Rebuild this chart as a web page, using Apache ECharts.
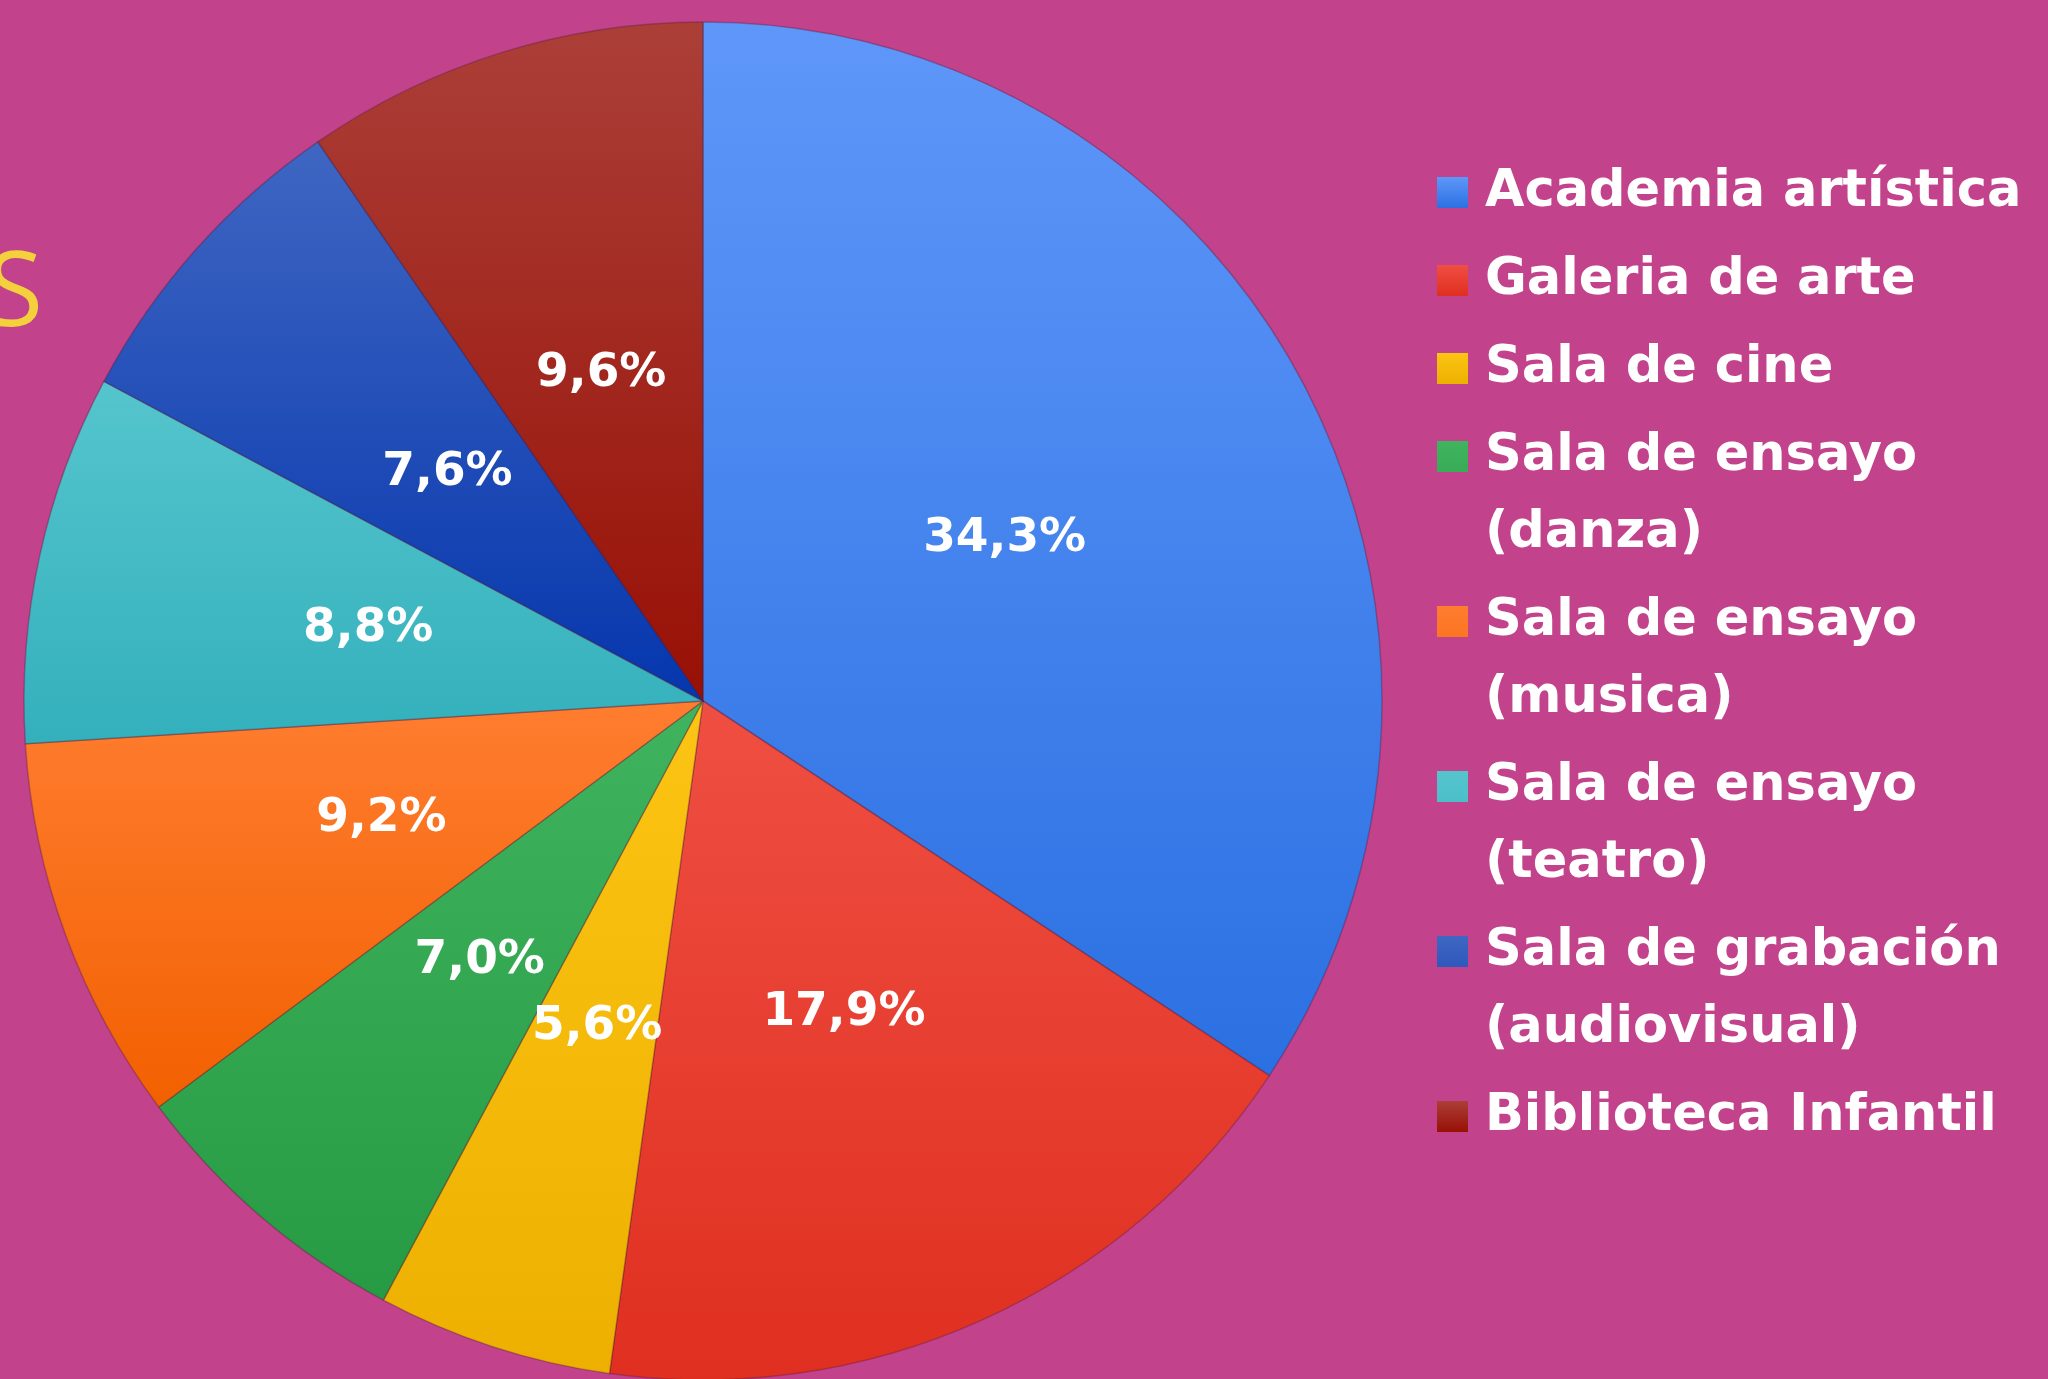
<!DOCTYPE html>
<html>
<head>
<meta charset="utf-8">
<script src="https://cdn.jsdelivr.net/npm/echarts@6/dist/echarts.min.js"></script>
<style>
html, body { margin: 0; padding: 0; background: #c2428b; }
#container { width: 2048px; height: 1379px; }
</style>
</head>
<body>
<div id="container"></div>
<script>
// datos del gráfico
var categories = [
	'Academia artística',
	'Galeria de arte',
	'Sala de cine',
	'Sala de ensayo\n(danza)',
	'Sala de ensayo\n(musica)',
	'Sala de ensayo\n(teatro)',
	'Sala de grabación\n(audiovisual)',
	'Biblioteca Infantil'
];
var shares = [34.3, 17.9, 5.6, 7.0, 9.2, 8.8, 7.6, 9.6];
var topColors = ['#5f97f9', '#ef4f42', '#fcc414', '#40b35e', '#ff7d30', '#55c5cd', '#3f66c2', '#ab3f38'];
var bottomColors = ['#2b70e2', '#df2f20', '#edb000', '#279a44', '#f26000', '#33b0bc', '#0536ad', '#981005'];

// icono cuadrado: arriba para nombres de dos líneas, centrado para una línea
var iconOne = 'path://M0,0h31v31h-31z';
var iconTwo = 'path://M0,0h31v31h-31z M0,107.9h0.1v0.1h-0.1z';

function getDataArray() {
	var arr = [];
	for (var i = 0; i < categories.length; i++) {
		arr.push({
			name: categories[i],
			value: shares[i],
			itemStyle: {
				color: new echarts.graphic.LinearGradient(0, 0, 0, 1, [
					{ offset: 0, color: topColors[i] },
					{ offset: 1, color: bottomColors[i] }
				])
			}
		});
	}
	return arr;
}

function getLegendData() {
	var arr = [];
	for (var i = 0; i < categories.length; i++) {
		arr.push({
			name: categories[i],
			icon: categories[i].indexOf('\n') >= 0 ? iconTwo : iconOne
		});
	}
	return arr;
}

var myChart = echarts.init(document.getElementById('container'));
var option = {
	backgroundColor: '#c2428b',
	animation: false,
	graphic: [{
		type: 'text',
		x: -14,
		y: 244,
		style: {
			text: 'S',
			fill: '#f4d03c',
			font: '500 104px "Open Sans"'
		}
	}],
	legend: {
		orient: 'vertical',
		left: 1437,
		top: 154,
		padding: 0,
		itemWidth: 31,
		itemHeight: 108,
		itemGap: 11,
		symbolKeepAspect: true,
		selectedMode: false,
		data: getLegendData(),
		itemStyle: { borderWidth: 0 },
		textStyle: {
			color: '#ffffff',
			fontFamily: 'DejaVu Sans',
			fontWeight: 'bold',
			fontSize: 51,
			lineHeight: 77,
			padding: [0, 0, 0, 12]
		}
	},
	series: [{
		name: 'Espacios',
		type: 'pie',
		center: [703, 701],
		radius: [0, 679],
		startAngle: 90,
		clockwise: true,
		data: getDataArray(),
		itemStyle: {
			borderColor: 'rgba(70, 20, 50, 0.3)',
			borderWidth: 1.5
		},
		label: {
			position: 'inside',
			color: '#ffffff',
			fontFamily: 'DejaVu Sans',
			fontWeight: 'bold',
			fontSize: 47,
			formatter: function (p) {
				return p.value.toFixed(1).replace('.', ',') + '%';
			}
		},
		labelLine: { show: false },
		emphasis: { disabled: true }
	}]
};
myChart.setOption(option);
</script>
</body>
</html>
